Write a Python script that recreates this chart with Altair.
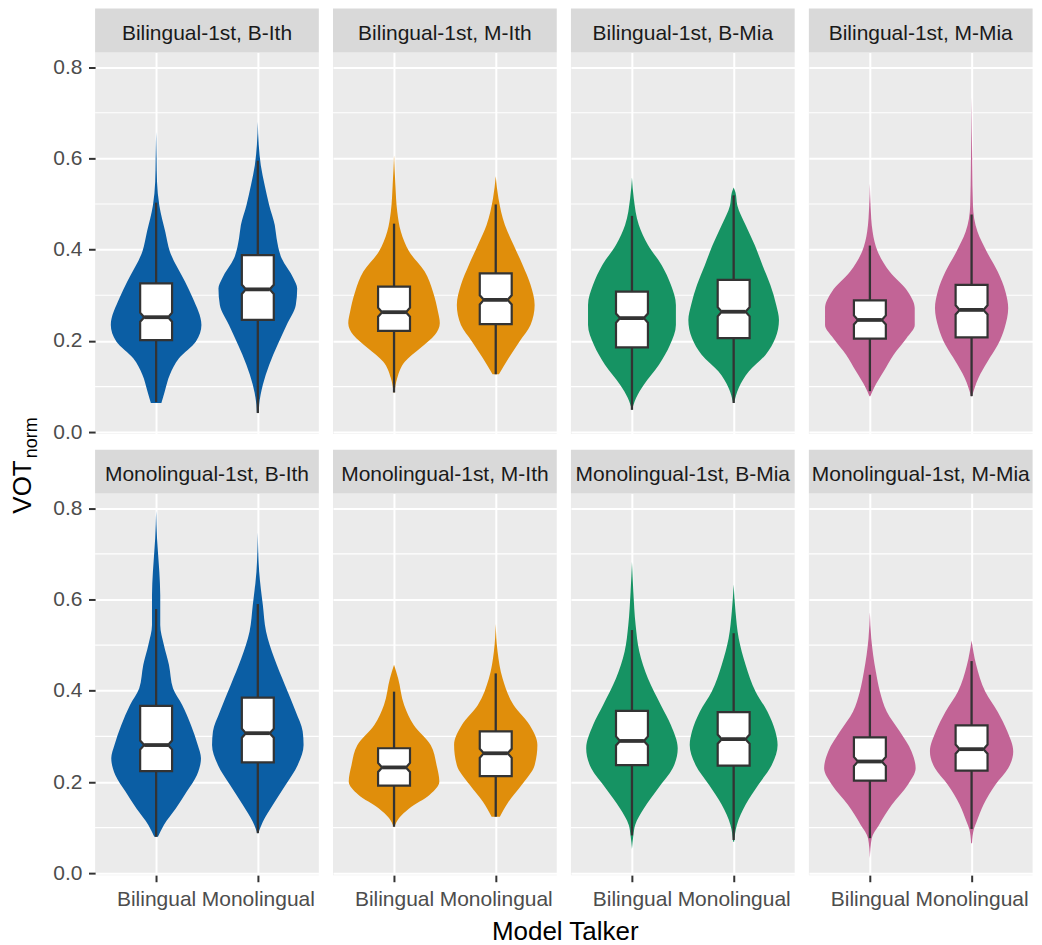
import altair as alt
import pandas as pd

FONT = "Liberation Sans"

ORDERS = ["Bilingual-1st", "Monolingual-1st"]
MODELS = ["B-Ith", "M-Ith", "B-Mia", "M-Mia"]
TALKERS = ["Bilingual", "Monolingual"]
PANEL_COLORS = ["#0b5ea4", "#e08e0b", "#169363", "#c26496"]
Y_TICKS = [0.0, 0.2, 0.4, 0.6, 0.8]
Y_MINOR = [0.1, 0.3, 0.5, 0.7]
Y_TITLE = ["VOT", "norm"]
X_TITLE = ["Model Talker"]

# violin profiles: (VOT_norm, relative half-width of the density)
v_b_bith_bil = [(0.064, 0.115), (0.090, 0.19), (0.126, 0.30), (0.162, 0.50), (0.199, 0.87), (0.235, 0.99),
                (0.294, 0.80), (0.330, 0.63), (0.396, 0.30), (0.439, 0.20), (0.497, 0.07), (0.549, 0.02),
                (0.600, 0.01), (0.658, 0.0)]
v_b_bith_mono = [(0.043, 0.02), (0.060, 0.03), (0.104, 0.11), (0.148, 0.25), (0.191, 0.43), (0.235, 0.63),
                 (0.279, 0.83), (0.315, 0.86), (0.337, 0.78), (0.381, 0.52), (0.425, 0.41), (0.454, 0.37),
                 (0.497, 0.25), (0.541, 0.15), (0.585, 0.065), (0.630, 0.02), (0.680, 0.0)]
v_b_mith_bil = [(0.087, 0.01), (0.119, 0.07), (0.155, 0.24), (0.184, 0.57), (0.213, 0.89), (0.239, 1.0),
                (0.264, 0.96), (0.308, 0.85), (0.352, 0.67), (0.396, 0.33), (0.439, 0.15), (0.483, 0.07),
                (0.541, 0.03), (0.607, 0.0)]
v_b_mith_mono = [(0.127, 0.07), (0.162, 0.28), (0.199, 0.52), (0.235, 0.76), (0.279, 0.85), (0.323, 0.76),
                 (0.366, 0.59), (0.410, 0.39), (0.454, 0.20), (0.512, 0.06), (0.561, 0.0)]
v_b_bmia_bil = [(0.049, 0.0), (0.075, 0.09), (0.104, 0.26), (0.148, 0.59), (0.191, 0.83), (0.235, 0.96),
                (0.279, 0.96), (0.323, 0.85), (0.366, 0.65), (0.410, 0.35), (0.454, 0.15), (0.512, 0.04),
                (0.558, 0.0)]
v_b_bmia_mono = [(0.064, 0.01), (0.097, 0.11), (0.133, 0.33), (0.170, 0.70), (0.206, 0.91), (0.246, 0.99),
                 (0.279, 0.93), (0.323, 0.80), (0.366, 0.63), (0.410, 0.46), (0.454, 0.26), (0.497, 0.08),
                 (0.525, 0.04), (0.536, 0.0)]
v_b_mmia_bil = [(0.079, 0.01), (0.097, 0.09), (0.133, 0.30), (0.170, 0.52), (0.206, 0.80), (0.235, 0.98),
                (0.272, 0.98), (0.308, 0.83), (0.352, 0.43), (0.396, 0.17), (0.439, 0.06), (0.497, 0.015),
                (0.545, 0.0)]
v_b_mmia_mono = [(0.079, 0.01), (0.119, 0.15), (0.155, 0.35), (0.191, 0.57), (0.228, 0.72), (0.272, 0.80),
                 (0.308, 0.74), (0.352, 0.57), (0.396, 0.33), (0.439, 0.13), (0.497, 0.03), (0.585, 0.015),
                 (0.734, 0.0)]
v_m_bith_bil = [(0.080, 0.04), (0.106, 0.17), (0.142, 0.43), (0.179, 0.67), (0.215, 0.89), (0.252, 0.98),
                (0.281, 0.91), (0.325, 0.76), (0.369, 0.57), (0.405, 0.37), (0.457, 0.28), (0.500, 0.17),
                (0.544, 0.09), (0.610, 0.09), (0.661, 0.07), (0.734, 0.02), (0.794, 0.0)]
v_m_bith_mono = [(0.088, 0.01), (0.113, 0.11), (0.150, 0.33), (0.194, 0.61), (0.237, 0.87), (0.281, 1.0),
                 (0.311, 0.98), (0.354, 0.83), (0.413, 0.59), (0.471, 0.36), (0.530, 0.18), (0.588, 0.11),
                 (0.661, 0.03), (0.747, 0.0)]
v_m_mith_bil = [(0.102, 0.01), (0.121, 0.11), (0.142, 0.33), (0.172, 0.78), (0.201, 0.99), (0.237, 0.93),
                (0.281, 0.80), (0.325, 0.43), (0.369, 0.22), (0.427, 0.09), (0.457, 0.0)]
v_m_mith_mono = [(0.124, 0.09), (0.157, 0.28), (0.194, 0.57), (0.237, 0.85), (0.281, 0.91), (0.325, 0.74),
                 (0.369, 0.39), (0.427, 0.15), (0.486, 0.04), (0.546, 0.0)]
v_m_bmia_bil = [(0.053, 0.0), (0.083, 0.03), (0.106, 0.07), (0.142, 0.26), (0.186, 0.57), (0.230, 0.89),
                (0.274, 1.0), (0.325, 0.85), (0.369, 0.63), (0.427, 0.35), (0.486, 0.16), (0.544, 0.08),
                (0.617, 0.03), (0.682, 0.0)]
v_m_bmia_mono = [(0.069, 0.01), (0.106, 0.07), (0.150, 0.26), (0.194, 0.54), (0.237, 0.83), (0.281, 0.96),
                 (0.311, 0.91), (0.354, 0.74), (0.398, 0.48), (0.457, 0.26), (0.515, 0.11), (0.574, 0.04),
                 (0.633, 0.0)]
v_m_mmia_bil = [(0.033, 0.0), (0.077, 0.04), (0.106, 0.20), (0.150, 0.48), (0.194, 0.83), (0.230, 1.0),
                (0.267, 0.91), (0.311, 0.65), (0.354, 0.37), (0.398, 0.22), (0.442, 0.13), (0.515, 0.03),
                (0.572, 0.0)]
v_m_mmia_mono = [(0.066, 0.01), (0.097, 0.05), (0.113, 0.11), (0.150, 0.26), (0.194, 0.52), (0.230, 0.80),
                 (0.267, 0.91), (0.311, 0.78), (0.354, 0.57), (0.398, 0.30), (0.457, 0.10), (0.510, 0.0)]

VIOLINS = [v_b_bith_bil, v_b_bith_mono, v_b_mith_bil, v_b_mith_mono,
           v_b_bmia_bil, v_b_bmia_mono, v_b_mmia_bil, v_b_mmia_mono,
           v_m_bith_bil, v_m_bith_mono, v_m_mith_bil, v_m_mith_mono,
           v_m_bmia_bil, v_m_bmia_mono, v_m_mmia_bil, v_m_mmia_mono]

# box-plot statistics, same order as VIOLINS
WHISK_LO = [0.066, 0.042, 0.087, 0.127, 0.049, 0.064, 0.090, 0.079,
            0.080, 0.088, 0.102, 0.124, 0.083, 0.073, 0.077, 0.097]
Q1 = [0.202, 0.246, 0.222, 0.237, 0.186, 0.206, 0.205, 0.208,
      0.224, 0.243, 0.192, 0.213, 0.237, 0.236, 0.203, 0.225]
MED = [0.252, 0.313, 0.263, 0.290, 0.250, 0.264, 0.246, 0.268,
       0.281, 0.307, 0.232, 0.263, 0.290, 0.294, 0.245, 0.272]
Q3 = [0.326, 0.388, 0.319, 0.348, 0.308, 0.334, 0.289, 0.323,
      0.367, 0.385, 0.274, 0.311, 0.356, 0.353, 0.298, 0.324]
WHISK_HI = [0.503, 0.595, 0.457, 0.499, 0.474, 0.519, 0.409, 0.477,
            0.579, 0.590, 0.398, 0.438, 0.533, 0.526, 0.435, 0.465]
NOTCH_HALF = 0.010

HALF_MAX = 0.45
BOX_HALF = 0.157
NOTCH_IND = 0.04

panels = []
recs = []
k = 0
for order in ORDERS:
    for mi, model in enumerate(MODELS):
        panel = f"{order}, {model}"
        panels.append(panel)
        col = PANEL_COLORS[mi]
        for ti, talker in enumerate(TALKERS):
            c = ti + 1
            vid = f"{panel}|{talker}"
            for j, (yy, w) in enumerate(VIOLINS[k]):
                recs.append(dict(kind="violin", panel=panel, vid=vid, col=col, y=yy,
                                 x1=c - w * HALF_MAX, x2=c + w * HALF_MAX, ord=j))
            recs.append(dict(kind="whisker", panel=panel, vid=vid, x1=c, y=WHISK_LO[k], y2=WHISK_HI[k]))
            md = MED[k]
            pts = [(Q1[k], 0.0), (md - NOTCH_HALF, 0.0), (md, NOTCH_IND), (md + NOTCH_HALF, 0.0), (Q3[k], 0.0)]
            for j, (yy, ind) in enumerate(pts):
                recs.append(dict(kind="box", panel=panel, vid=vid, y=yy,
                                 x1=c - BOX_HALF + ind, x2=c + BOX_HALF - ind, ord=j))
            recs.append(dict(kind="median", panel=panel, vid=vid, y=md,
                             x1=c - BOX_HALF + NOTCH_IND, x2=c + BOX_HALF - NOTCH_IND))
            k += 1
        recs.append(dict(kind="strip", panel=panel))
        for g in Y_MINOR:
            recs.append(dict(kind="grid", panel=panel, y=g))

df = pd.DataFrame(recs)

W, H = 224, 382
xscale = alt.Scale(domain=[0.4, 2.6], nice=False, zero=False)
yscale = alt.Scale(domain=[-0.004, 0.832], nice=False, zero=False)
label_expr = f"datum.value == 1 ? '{TALKERS[0]}' : '{TALKERS[1]}'"


def panel_chart(pi):
    row, ci = divmod(pi, 4)
    show_y = ci == 0
    show_x = row == 1
    xaxis = alt.Axis(values=[1, 2], labelExpr=label_expr, title=None, grid=True, gridColor="white",
                     gridWidth=2, domain=False, labels=show_x, ticks=show_x,
                     tickColor="#333333", tickSize=6.6, tickWidth=2,
                     labelFontSize=21, labelColor="#4d4d4d", labelPadding=7, labelFont=FONT)
    yaxis = alt.Axis(values=Y_TICKS, format=".1f", title=None, grid=True, gridColor="white",
                     gridWidth=2, domain=False, labels=show_y, ticks=show_y,
                     tickColor="#333333", tickSize=6.6, tickWidth=2,
                     labelFontSize=21, labelColor="#4d4d4d", labelPadding=6.5, labelFont=FONT)

    def X(f):
        return alt.X(f"{f}:Q", scale=xscale, axis=xaxis, stack=None)

    Y = alt.Y("y:Q", scale=yscale, axis=yaxis)
    sub = df[df["panel"] == panels[pi]]
    base = alt.Chart(sub)

    grid = base.transform_filter("datum.kind == 'grid'").mark_rule(
        color="white", strokeWidth=1.1).encode(y=Y)
    violin = base.transform_filter("datum.kind == 'violin'").mark_area(
        orient="horizontal", interpolate="monotone").encode(
        y=Y, x=X("x1"), x2="x2:Q", color=alt.Color("col:N", scale=None), detail="vid:N")
    whisker = base.transform_filter("datum.kind == 'whisker'").mark_rule(
        color="#333333", strokeWidth=2.3).encode(x=X("x1"), y=Y, y2="y2:Q")
    box = base.transform_filter("datum.kind == 'box'").mark_area(
        orient="horizontal", interpolate="linear", fill="white", stroke="#333333", strokeWidth=2.2,
        strokeJoin="miter").encode(y=Y, x=X("x1"), x2="x2:Q", detail="vid:N")
    median = base.transform_filter("datum.kind == 'median'").mark_rule(
        color="#333333", strokeWidth=3.8).encode(x=X("x1"), x2="x2:Q", y=Y)
    strip_rect = base.transform_filter("datum.kind == 'strip'").mark_rect(fill="#d9d9d9").encode(
        x=alt.value(0), x2=alt.value(W), y=alt.value(-44), y2=alt.value(0))
    strip_text = base.transform_filter("datum.kind == 'strip'").mark_text(
        font=FONT, fontSize=21, color="#1a1a1a", baseline="alphabetic", align="center").encode(
        x=alt.value(W / 2), y=alt.value(-12.6), text="panel:N")

    layers = [grid, violin, whisker, box, median, strip_rect, strip_text]

    if pi == 0:
        ydf = pd.DataFrame({"t": Y_TITLE})
        layers.append(alt.Chart(ydf).transform_filter(f"datum.t == '{Y_TITLE[0]}'").mark_text(
            angle=270, align="left", baseline="alphabetic", fontSize=26, color="black", font=FONT).encode(
            text="t:N", x=alt.value(-64.6), y=alt.value(461.7)))
        layers.append(alt.Chart(ydf).transform_filter(f"datum.t == '{Y_TITLE[1]}'").mark_text(
            angle=270, align="left", baseline="alphabetic", fontSize=18, color="black", font=FONT).encode(
            text="t:N", x=alt.value(-58.3), y=alt.value(406.2)))
    if pi == 4:
        xdf = pd.DataFrame({"t": X_TITLE})
        layers.append(alt.Chart(xdf).mark_text(
            align="center", baseline="alphabetic", fontSize=26, color="black", font=FONT).encode(
            text="t:N", x=alt.value(470.7), y=alt.value(447.1)))

    return alt.layer(*layers).properties(width=W, height=H)


chart = alt.concat(*[panel_chart(i) for i in range(8)], columns=4,
                   spacing={"row": 59.6, "column": 14.2}, bounds="flush").properties(
    padding={"left": 1.2, "top": 0, "right": 0, "bottom": 0}
).configure(font=FONT).configure_view(stroke=None, fill="#ebebeb")

chart.save("out.html", embed_options={"renderer": "svg", "actions": False})
